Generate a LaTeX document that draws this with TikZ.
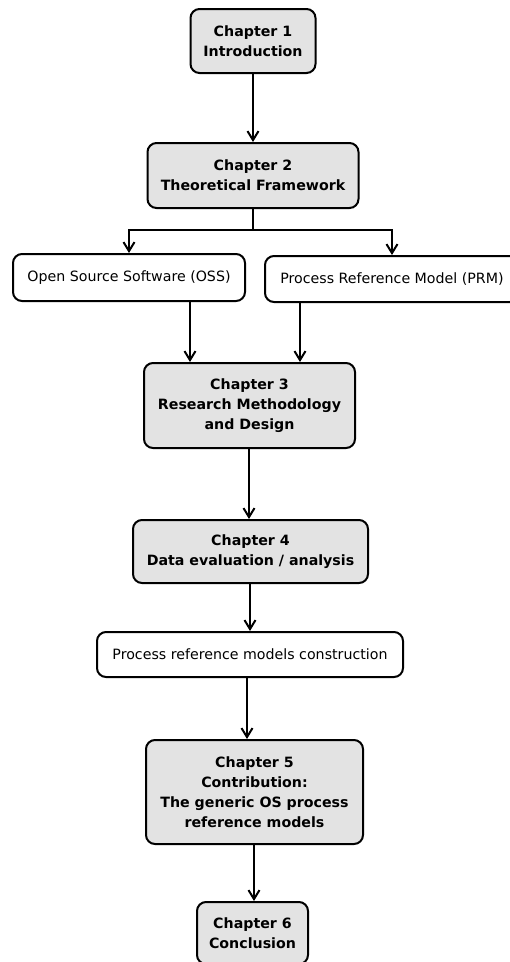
\documentclass[tikz,border=0pt]{standalone}
\usepackage{fontspec}
\setmainfont{DejaVu Sans}
\usetikzlibrary{arrows.meta}
\definecolor{boxfill}{HTML}{E3E3E3}
\begin{document}
\begin{tikzpicture}[x=1pt,y=-1pt,
  font=\fontsize{14.2}{20}\selectfont,
  every node/.style={inner sep=0pt,align=center,line width=2pt,rounded corners=9pt},
  chapbox/.style={draw,fill=boxfill,font=\fontsize{14.2}{20}\selectfont\bfseries},
  topicbox/.style={draw,fill=white},
  flow/.style={line width=2pt,-{Straight Barb[length=9pt,width=11pt]}},
  link/.style={line width=2pt}]
\useasboundingbox (0,0) rectangle (510,962);
\fill[white] (0,0) rectangle (510,962);

% chapter boxes
\node[chapbox,minimum width=125pt,minimum height=64pt] (c1) at (253,41) {Chapter 1\\Introduction};
\node[chapbox,minimum width=211pt,minimum height=65pt] (c2) at (253,175.5) {Chapter 2\\Theoretical Framework};
\node[chapbox,minimum width=211pt,minimum height=85pt] (c3) at (249.5,405.5) {Chapter 3\\Research Methodology\\and Design};
\node[chapbox,minimum width=235pt,minimum height=63pt] (c4) at (250.5,551.5) {Chapter 4\\Data evaluation / analysis};
\node[chapbox,minimum width=217pt,minimum height=104pt] (c5) at (254.5,792) {Chapter 5\\Contribution:\\The generic OS process\\reference models};
\node[chapbox,minimum width=111pt,minimum height=62pt] (c6) at (252.5,933) {Chapter 6\\Conclusion};

% topic boxes
\node[topicbox,minimum width=232pt,minimum height=47pt] (oss) at (129,277.5) {Open Source Software (OSS)};
\node[topicbox,minimum width=254pt,minimum height=46pt] (prm) at (392,279) {Process Reference Model (PRM)};
\node[topicbox,minimum width=306pt,minimum height=45pt] (prc) at (250,654.5) {Process reference models construction};

% guide coordinates for the connectors
\coordinate (split) at (253,230);
\coordinate (xo) at (190,0);
\coordinate (xp) at (300,0);
\coordinate (x3) at (249,0);
\coordinate (x4) at (250,0);
\coordinate (x5) at (247,0);
\coordinate (x6) at (254,0);

% connectors
\draw[flow] (c1.south) -- (c2.north);
\draw[link] (c2.south) -- (split);
\draw[flow] (split) -| (oss.north);
\draw[flow] (split) -| (prm.north);
\draw[flow] (oss.south -| xo) -- (c3.north -| xo);
\draw[flow] (prm.south -| xp) -- (c3.north -| xp);
\draw[flow] (c3.south -| x3) -- (c4.north -| x3);
\draw[flow] (c4.south -| x4) -- (prc.north -| x4);
\draw[flow] (prc.south -| x5) -- (c5.north -| x5);
\draw[flow] (c5.south -| x6) -- (c6.north -| x6);
\end{tikzpicture}
\end{document}
